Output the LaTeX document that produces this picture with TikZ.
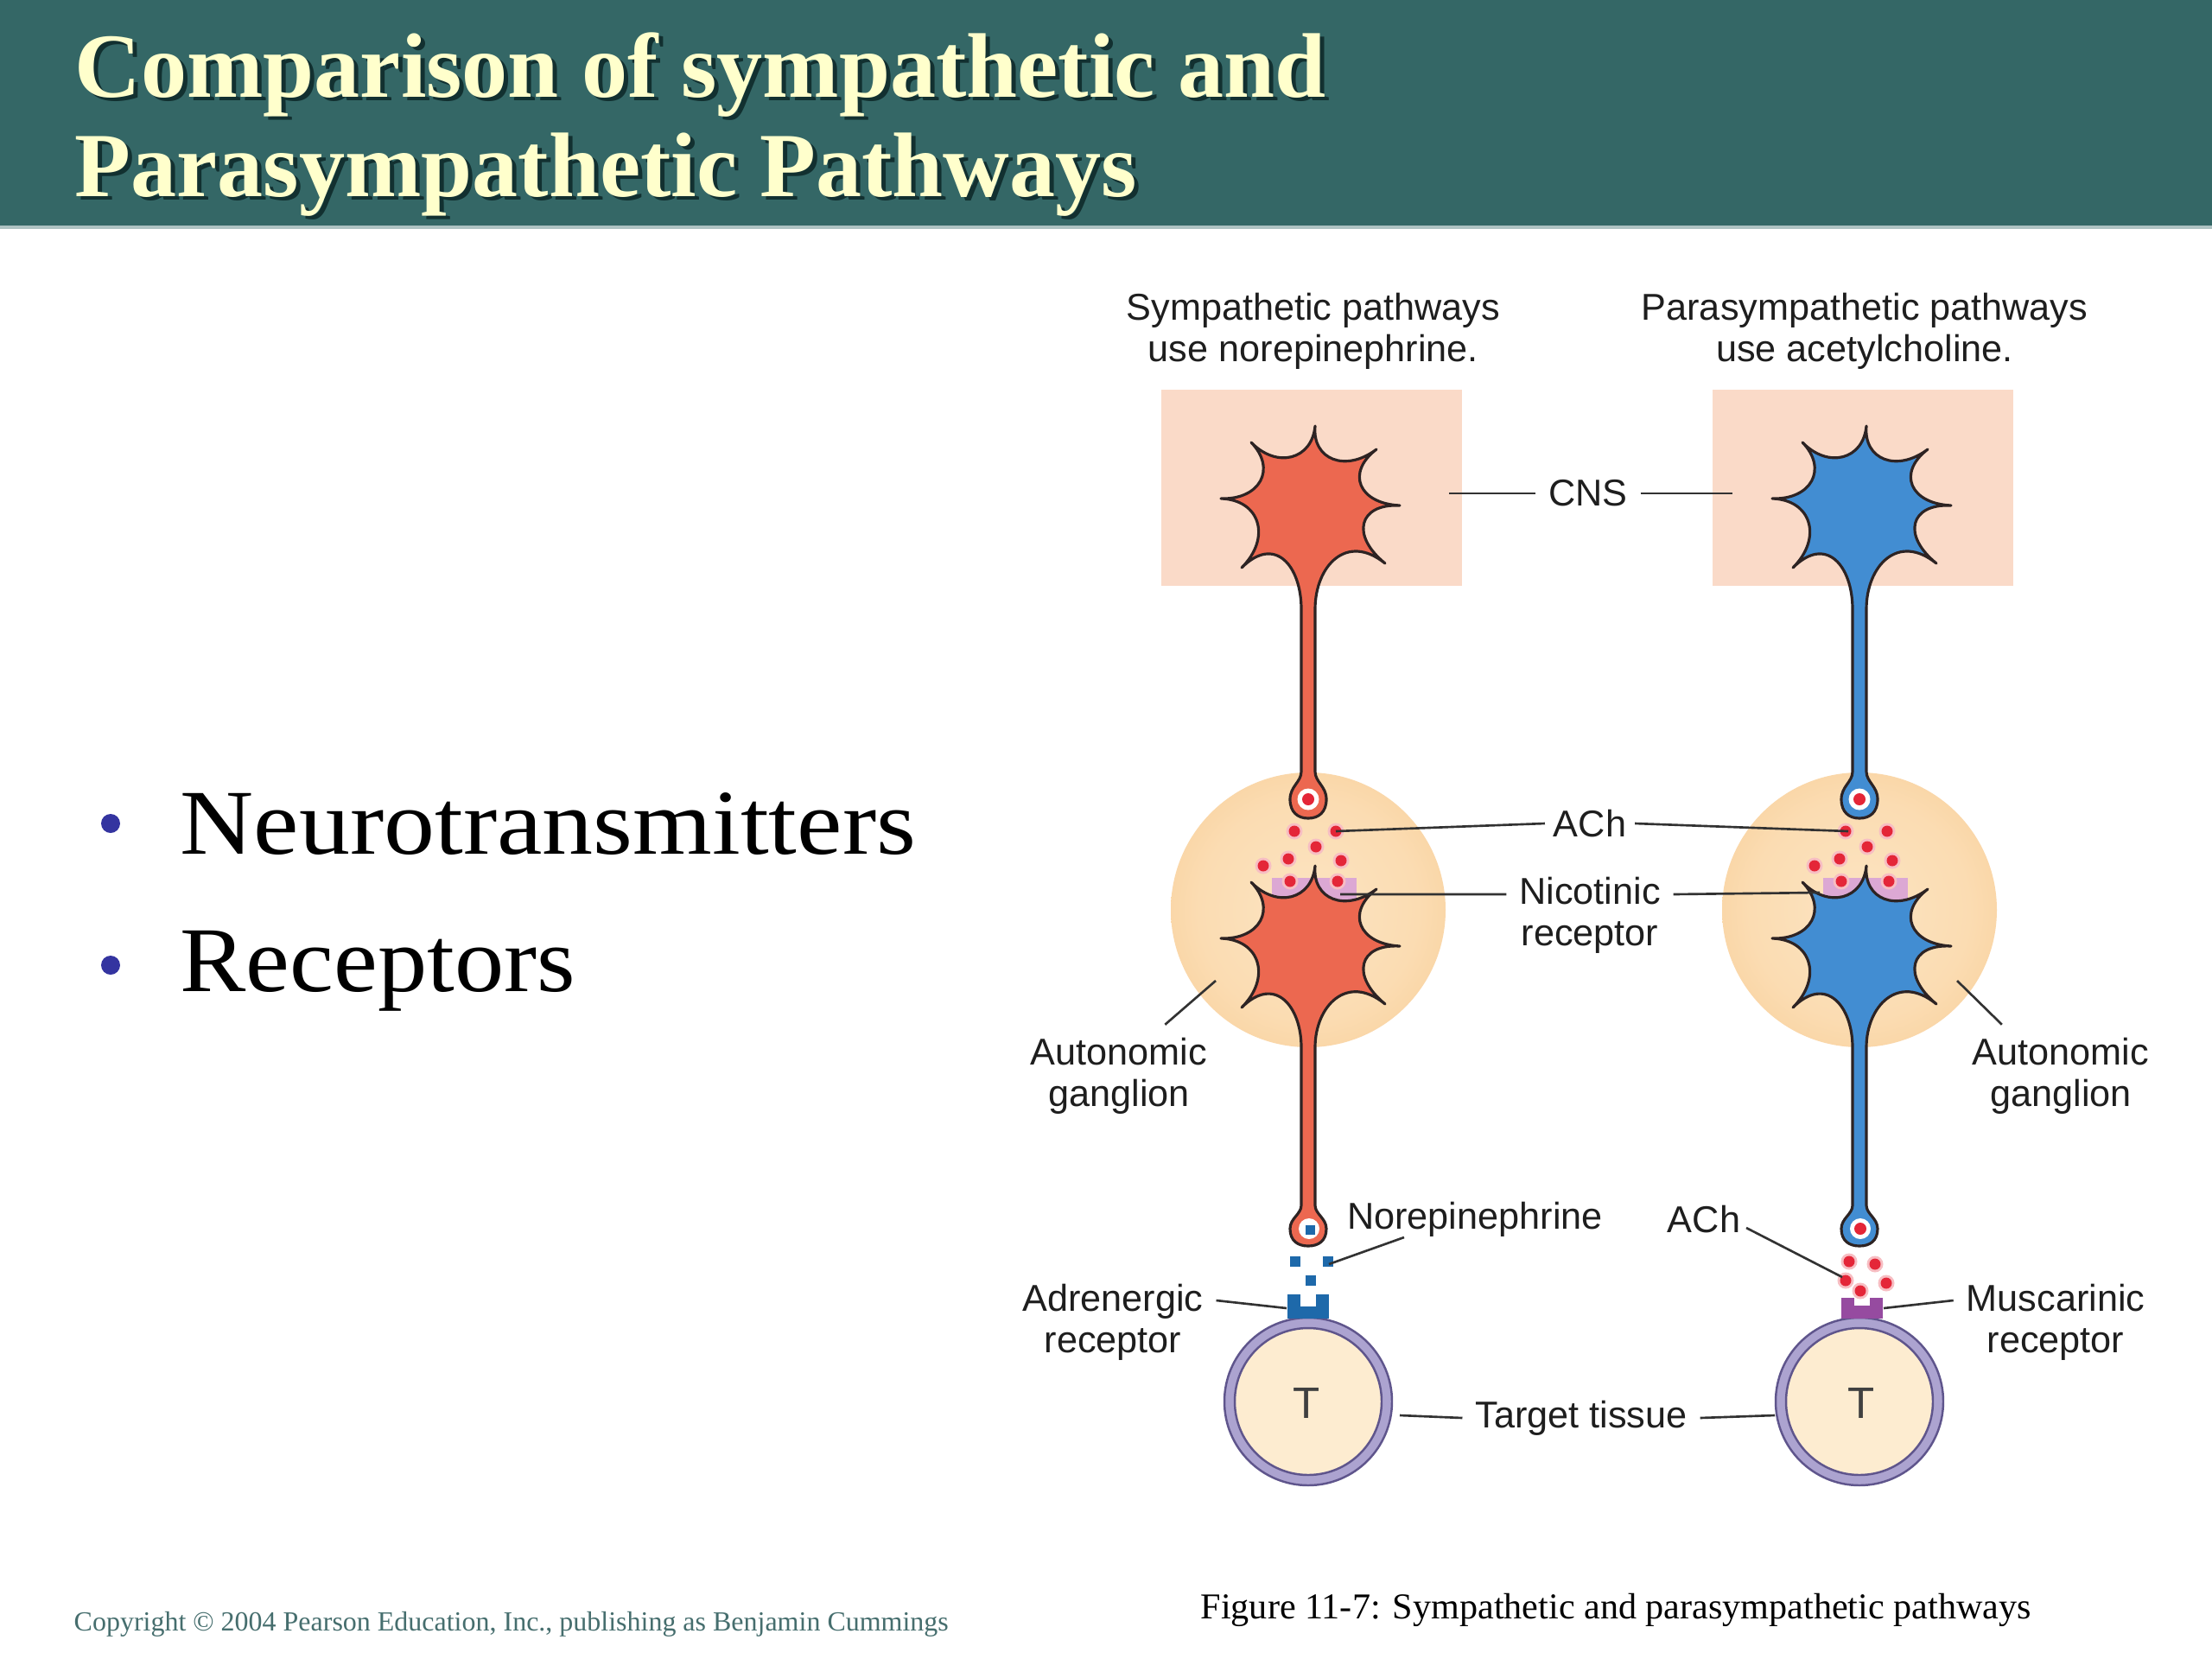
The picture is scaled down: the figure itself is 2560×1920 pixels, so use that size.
\documentclass[tikz,border=0pt]{standalone}
\usepackage{fontspec}
\usepackage{graphicx}
\setmainfont{Liberation Serif}
\newfontfamily\labfont{Liberation Sans}
\usetikzlibrary{calc}

\definecolor{hdr}{RGB}{52,103,102}
\definecolor{ttl}{RGB}{255,255,204}
\definecolor{ttlsh}{RGB}{18,48,48}
\definecolor{cnsbox}{RGB}{250,218,200}
\definecolor{nred}{RGB}{236,104,80}
\definecolor{nblue}{RGB}{66,141,210}
\definecolor{outl}{RGB}{45,35,35}
\definecolor{achred}{RGB}{228,38,56}
\definecolor{nepblue}{RGB}{30,105,170}
\definecolor{nicpink}{RGB}{220,168,212}
\definecolor{muspurp}{RGB}{150,75,160}
\definecolor{tcream}{RGB}{253,236,208}
\definecolor{tring}{RGB}{172,163,208}
\definecolor{tline}{RGB}{95,85,140}
\definecolor{gin}{RGB}{252,228,194}
\definecolor{gin2}{RGB}{251,220,178}
\definecolor{gmid}{RGB}{247,200,140}
\definecolor{gout}{RGB}{244,188,118}
\definecolor{gedge}{RGB}{248,210,165}
\definecolor{labc}{RGB}{30,30,30}
\definecolor{leadc}{RGB}{50,50,50}
\definecolor{bul}{RGB}{52,52,160}
\definecolor{copyc}{RGB}{70,110,110}

\pgfdeclareradialshading{gangshade}{\pgfpoint{0bp}{0bp}}{color(0bp)=(gin); color(20bp)=(gin2); color(40bp)=(gmid); color(47bp)=(gout); color(50bp)=(gedge)}

\tikzset{
  lbl/.style={font=\labfont\fontsize{12.3}{13.7}\selectfont, text=labc, align=center, inner sep=0pt, outer sep=1.5mm},
  tlbl/.style={font=\labfont\fontsize{14.5}{16}\selectfont, text=labc!85, inner sep=0pt},
  leader/.style={draw=leadc, line width=0.75pt},
  cell/.style={draw=outl, line width=0.9pt, line join=round},
  ttlfont/.style={font=\fontsize{30.2}{32}\selectfont\bfseries, inner sep=0pt, anchor=base west},
  bultext/.style={font=\fontsize{30.5}{34}\selectfont, inner sep=0pt, anchor=base west, text=black},
  bulletdot/.style={circle, fill=bul, minimum size=2.2mm, inner sep=0pt},
}

\newcommand\drawcolumn[2]{%
\begin{scope}[shift={(#1,0)}]
  \fill[cnsbox] (-170,451) rectangle (178,678);
  \shade[shading=gangshade] (0,1053) circle[radius=15.9mm];
  \fill[nicpink] (-42,1016) rectangle (56,1049);
  % upper neuron
  \coordinate (c) at (0,580);
  \coordinate (p1) at (8,493);
  \coordinate (p2) at (79,520);
  \coordinate (p3) at (106,585);
  \coordinate (p4) at (89,652);
  \coordinate (p5) at (-77,657);
  \coordinate (p6) at (-101,577);
  \coordinate (p7) at (-66,512);
  \filldraw[cell, fill=#2] (p1)
    .. controls ($(p1)!.45!(c)$) and ($(p2)!.45!(c)$) .. (p2)
    .. controls ($(p2)!.45!(c)$) and ($(p3)!.45!(c)$) .. (p3)
    .. controls ($(p3)!.45!(c)$) and ($(p4)!.45!(c)$) .. (p4)
    .. controls ($(p4)!.5!(c)$) and (8,655) .. (8,705)
    -- (8,893)
    .. controls (8,905) and (21,910) .. (21,925)
    .. controls (21,940) and (12,947) .. (0,947)
    .. controls (-12,947) and (-21,940) .. (-21,925)
    .. controls (-21,910) and (-8,905) .. (-8,893)
    -- (-8,705)
    .. controls (-8,655) and ($(p5)!.5!(c)$) .. (p5)
    .. controls ($(p5)!.45!(c)$) and ($(p6)!.45!(c)$) .. (p6)
    .. controls ($(p6)!.45!(c)$) and ($(p7)!.45!(c)$) .. (p7)
    .. controls ($(p7)!.45!(c)$) and ($(p1)!.45!(c)$) .. cycle;
  \fill[white] (0,925) circle[radius=1.25mm];
  \fill[achred] (0,925) circle[radius=0.7mm];
  % lower neuron (same outline, 509 lower)
  \coordinate (d) at (0,1089);
  \coordinate (q1) at (-66,1021);
  \coordinate (q2) at (8,1002);
  \coordinate (q3) at (79,1029);
  \coordinate (q4) at (106,1095);
  \coordinate (q5) at (89,1162);
  \coordinate (q6) at (-77,1166);
  \coordinate (q7) at (-101,1086);
  \filldraw[cell, fill=#2] (q1)
    .. controls ($(q1)!.45!(d)$) and ($(q2)!.45!(d)$) .. (q2)
    .. controls ($(q2)!.45!(d)$) and ($(q3)!.45!(d)$) .. (q3)
    .. controls ($(q3)!.45!(d)$) and ($(q4)!.45!(d)$) .. (q4)
    .. controls ($(q4)!.45!(d)$) and ($(q5)!.45!(d)$) .. (q5)
    .. controls ($(q5)!.5!(d)$) and (8,1165) .. (8,1212)
    -- (8,1395)
    .. controls (8,1405) and (21,1410) .. (21,1422)
    .. controls (21,1436) and (12,1442) .. (0,1442)
    .. controls (-12,1442) and (-21,1436) .. (-21,1422)
    .. controls (-21,1410) and (-8,1405) .. (-8,1395)
    -- (-8,1212)
    .. controls (-8,1165) and ($(q6)!.5!(d)$) .. (q6)
    .. controls ($(q6)!.45!(d)$) and ($(q7)!.45!(d)$) .. (q7)
    .. controls ($(q7)!.45!(d)$) and ($(q1)!.45!(d)$) .. cycle;
  \fill[white] (1,1422) circle[radius=1.2mm];
  % ACh dots in ganglion
  \foreach \dx/\dy in {-16/962, 32/962, 9/980, -52/1002, -23/994, 38/996, -21/1020, 34/1020}{
    \fill[achred!30] (\dx,\dy) circle[radius=0.95mm];
    \fill[achred] (\dx,\dy) circle[radius=0.65mm];}
  % target cell
  \filldraw[draw=tline, fill=tring, line width=0.7pt] (0,1622) circle[radius=9.7mm];
  \filldraw[draw=tline, fill=tcream, line width=0.7pt] (0,1622) circle[radius=8.5mm];
\end{scope}}

\begin{document}
\begin{tikzpicture}[x=0.1mm, y=-0.1mm]
\useasboundingbox (0,0) rectangle (2560,1920);
\fill[white] (0,0) rectangle (2560,1920);
% header
\fill[hdr] (0,0) rectangle (2560,261);
\fill[hdr!40] (0,261) rectangle (2560,265);
\node[ttlfont, text=ttlsh] (t1s) at (91,116) {Comparison of sympathetic and};
\node[ttlfont, text=ttlsh] (t2s) at (91,231) {Parasympathetic Pathways};
\node[ttlfont, text=ttl] (t1) at (86,112) {Comparison of sympathetic and};
\node[ttlfont, text=ttl] (t2) at (86,227) {Parasympathetic Pathways};

% bullets
\node[bulletdot] (d1) at (128,953) {};
\node[bulletdot] (d2) at (128,1117) {};
\node[bultext] (b1) at (208,988) {\scalebox{1.10}[1]{Neurotransmitters}};
\node[bultext] (b2) at (208,1147) {\scalebox{1.067}[1]{Receptors}};

% columns
\drawcolumn{1514}{nred}
\drawcolumn{2152}{nblue}

% left terminal: norepinephrine
\fill[nepblue] (1511,1418) rectangle (1522,1429);
\foreach \sx/\sy in {1499/1460, 1537/1460, 1517/1482}{
  \fill[nepblue] (\sx-6,\sy-6) rectangle (\sx+6,\sy+6);}
\fill[nepblue] (1490,1498) rectangle (1505,1514);
\fill[nepblue] (1523,1498) rectangle (1538,1514);
\fill[nepblue] (1490,1512) rectangle (1538,1526);

% right terminal: ACh
\fill[achred] (2153,1422) circle[radius=0.7mm];
\foreach \sx/\sy in {2140/1460, 2170/1463, 2136/1482, 2183/1485, 2153/1494}{
  \fill[achred!30] (\sx,\sy) circle[radius=0.95mm];
  \fill[achred] (\sx,\sy) circle[radius=0.65mm];}
\fill[muspurp] (2131,1502) rectangle (2146,1513);
\fill[muspurp] (2164,1502) rectangle (2179,1513);
\fill[muspurp] (2131,1511) rectangle (2179,1526);

% T labels
\node[tlbl] (tL) at (1512,1624) {T};
\node[tlbl] (tR) at (2154,1624) {T};

% labels
\node[lbl] (symp) at (1520,383) {Sympathetic pathways\\use norepinephrine.};
\node[lbl] (para) at (2158,383) {Parasympathetic pathways\\use acetylcholine.};
\node[lbl] (cns) at (1838,571) {CNS};
\node[lbl, outer sep=1mm] (achm) at (1840,953) {ACh};
\node[lbl] (nic) at (1840,1059) {Nicotinic\\receptor};
\node[lbl] (agl) at (1295,1245) {Autonomic\\ganglion};
\node[lbl] (agr) at (2385,1245) {Autonomic\\ganglion};
\node[lbl] (nep) at (1707,1411) {Norepinephrine};
\node[lbl] (ach2) at (1972,1411) {ACh};
\node[lbl] (adr) at (1288,1530) {Adrenergic\\receptor};
\node[lbl] (mus) at (2379,1530) {Muscarinic\\receptor};
\node[lbl] (tt) at (1830,1641) {Target tissue};

% leader endpoints
\coordinate (cnsL) at (1677,571);
\coordinate (cnsR) at (2005,571);
\coordinate (achL) at (1546,962);
\coordinate (achR) at (2139,962);
\coordinate (nicL) at (1551,1035);
\coordinate (nicR) at (2106,1033);
\coordinate (aglT) at (1407,1135);
\coordinate (agrT) at (2265,1135);
\coordinate (nepT) at (1538,1463);
\coordinate (ach2T) at (2132,1478);
\coordinate (adrT) at (1489,1514);
\coordinate (musT) at (2180,1514);
\coordinate (ttL) at (1620,1638);
\coordinate (ttR) at (2054,1638);

\draw[leader] (cns.west) -- (cnsL);
\draw[leader] (cns.east) -- (cnsR);
\draw[leader] (achm.west) -- (achL);
\draw[leader] (achm.east) -- (achR);
\draw[leader] ([yshift=2.4mm]nic.west) -- (nicL);
\draw[leader] ([yshift=2.4mm]nic.east) -- (nicR);
\draw[leader] (agl.48) -- (aglT);
\draw[leader] (agr.139) -- (agrT);
\draw[leader] ([xshift=-8.2mm,yshift=-2.1mm]nep.center) -- (nepT);
\draw[leader] ([xshift=4.9mm,yshift=-1mm]ach2.center) -- (ach2T);
\draw[leader] ([yshift=2.5mm]adr.east) -- (adrT);
\draw[leader] ([yshift=2.5mm]mus.west) -- (musT);
\draw[leader] (tt.west) -- (ttL);
\draw[leader] (tt.east) -- (ttR);

% footer
\node[inner sep=0pt, anchor=base west, text=copyc, font=\fontsize{9.1}{11}\selectfont] (copy) at (85,1887) {Copyright \textcopyright\ 2004 Pearson Education, Inc., publishing as Benjamin Cummings};
\node[inner sep=0pt, anchor=base west, text=black, font=\fontsize{12}{14}\selectfont] (cap) at (1389,1873) {Figure 11-7: Sympathetic and parasympathetic pathways};
\end{tikzpicture}
\end{document}
